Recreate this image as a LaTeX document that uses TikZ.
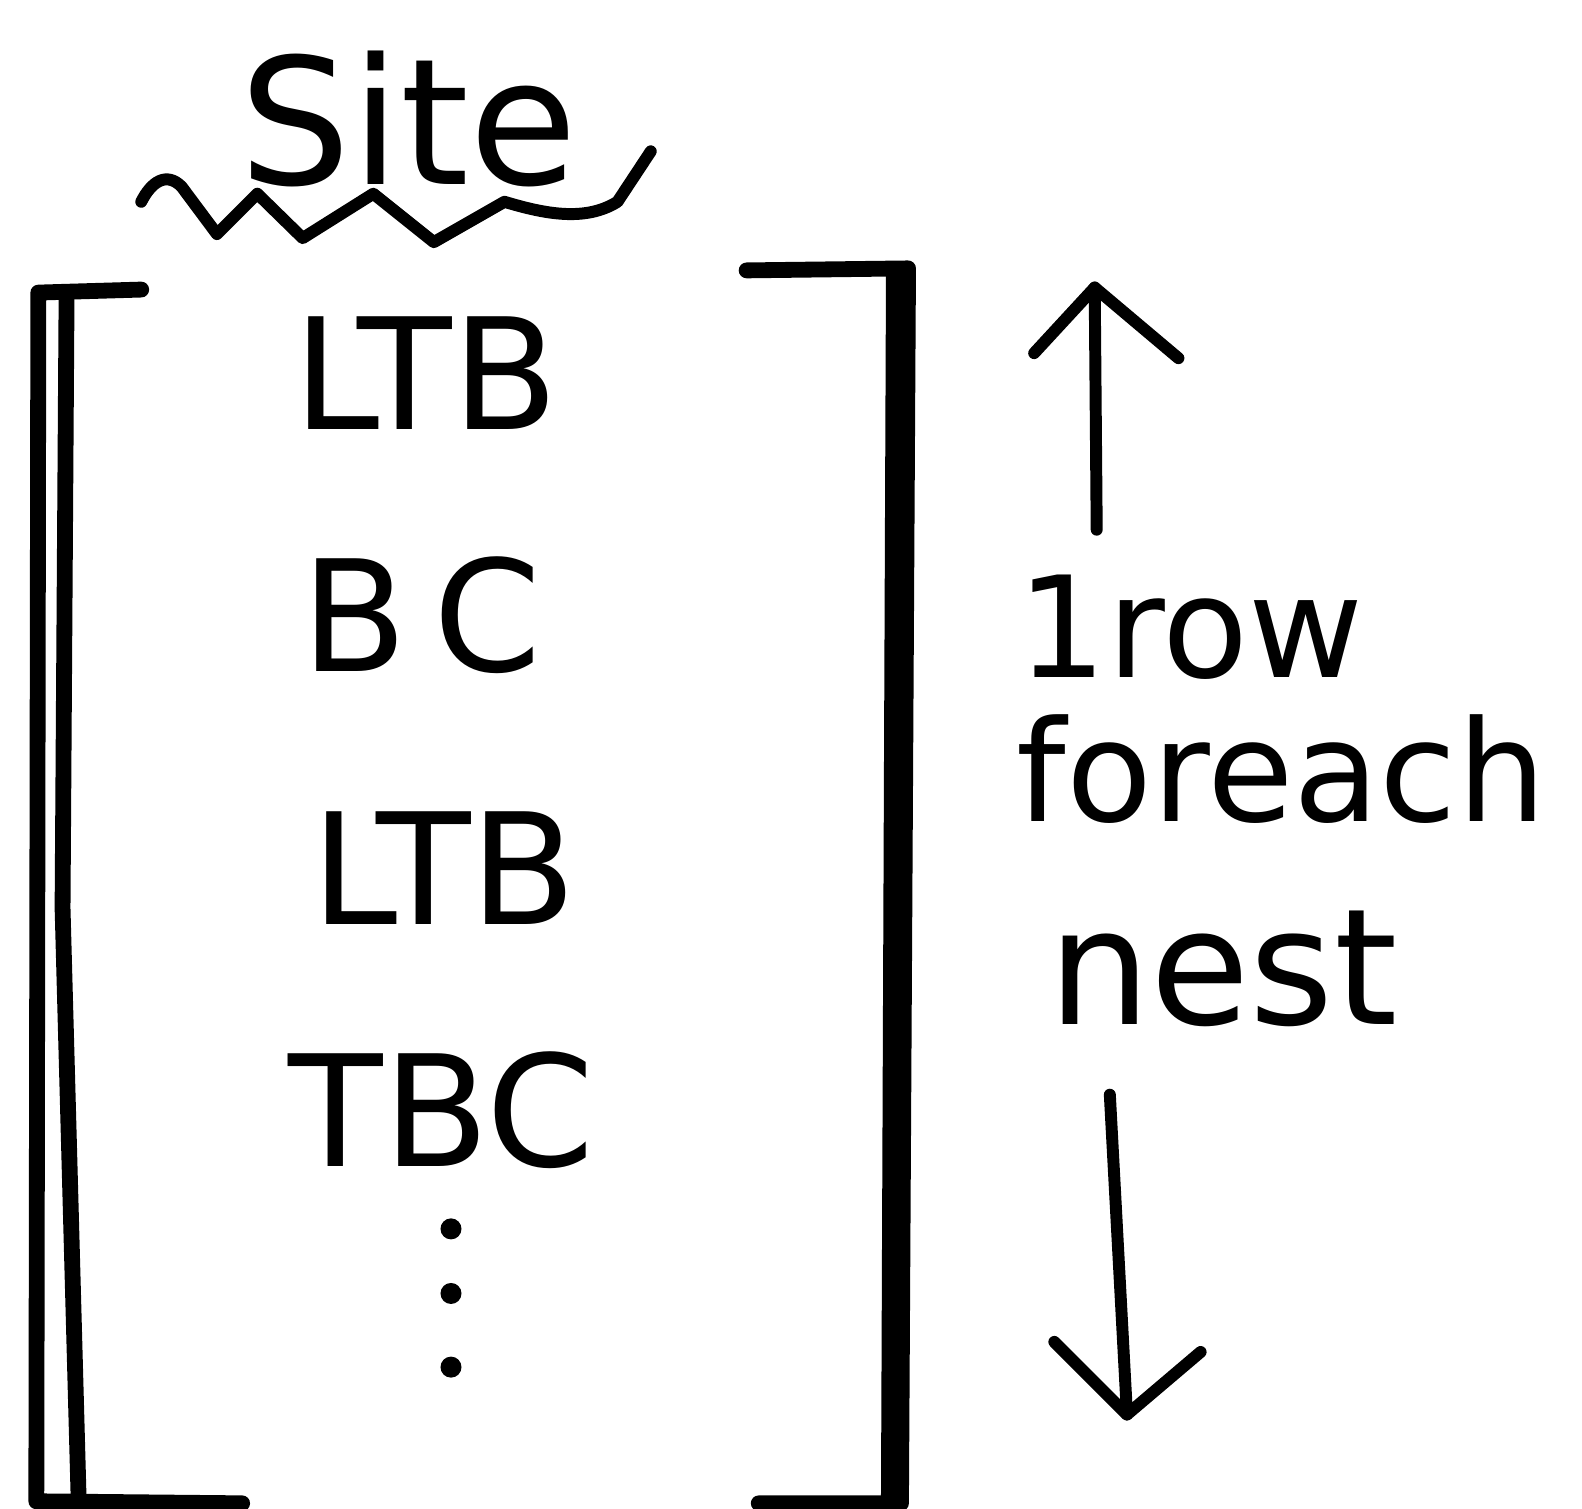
\documentclass[tikz,border=0pt]{standalone}
\usepackage{fontspec}
\setmainfont{DejaVu Sans}
\begin{document}
\begin{tikzpicture}[x=0.01009cm,y=-0.01009cm,
  ink/.style={line width=3.4pt,line cap=round,line join=round,black},
  brk/.style={line width=4.5pt,line cap=round,line join=round,black},
  big/.style={inner sep=0pt,font=\fontsize{44}{48}\selectfont},
  side/.style={inner sep=0pt,font=\fontsize{40}{44}\selectfont},
  dotmark/.style={circle,fill=black,inner sep=0pt,minimum size=0.21cm}]
\useasboundingbox (0,0) rectangle (1568,1495);
\fill[white] (0,0) rectangle (1568,1495);
% title
\node[inner sep=0pt,font=\fontsize{50}{54}\selectfont] (site) at (405,118) {Site};
\draw[ink] (140,200) .. controls (150,180) and (165,170) .. (180,185)
  -- (215,232) -- (255,192) -- (300,236) -- (370,192) -- (430,240)
  -- (500,200) .. controls (540,212) and (580,220) .. (612,200) -- (645,150);
% left bracket
\draw[brk] (140,287) -- (38,290) -- (36,1488) -- (240,1490);
\draw[brk] (66,290) -- (62,900) -- (78,1488);
% right bracket
\draw[brk] (740,268) -- (900,266) -- (893,1490) -- (752,1490);
\draw[brk] (886,268) -- (881,1488);
% column entries
\node[big] (ltbA) at (422,370) {LTB};
\node[big] (bc) at (418,610) {B\,C};
\node[big] (ltbB) at (440,860) {LTB};
\node[big] (tbc) at (438,1100) {TBC};
\node[dotmark] (d1) at (447,1218) {};
\node[dotmark] (d2) at (447,1282) {};
\node[dotmark] (d3) at (447,1355) {};
% side label
\node[side] (row) at (1180,622) {1row};
\node[side] (foreach) at (1270,762) {foreach};
\node[side,font=\fontsize{46}{50}\selectfont] (nest) at (1212,960) {nest};
% arrows
\coordinate (upTail) at (1087,525);
\coordinate (upHead) at (1085,285);
\coordinate (dnTail) at (1100,1085);
\coordinate (dnHead) at (1117,1402);
\draw[ink] (upTail) -- (upHead);
\draw[ink] (1025,350) -- (upHead) -- (1168,355);
\draw[ink] (dnTail) -- (dnHead);
\draw[ink] (1045,1330) -- (dnHead) -- (1190,1340);
\end{tikzpicture}
\end{document}
